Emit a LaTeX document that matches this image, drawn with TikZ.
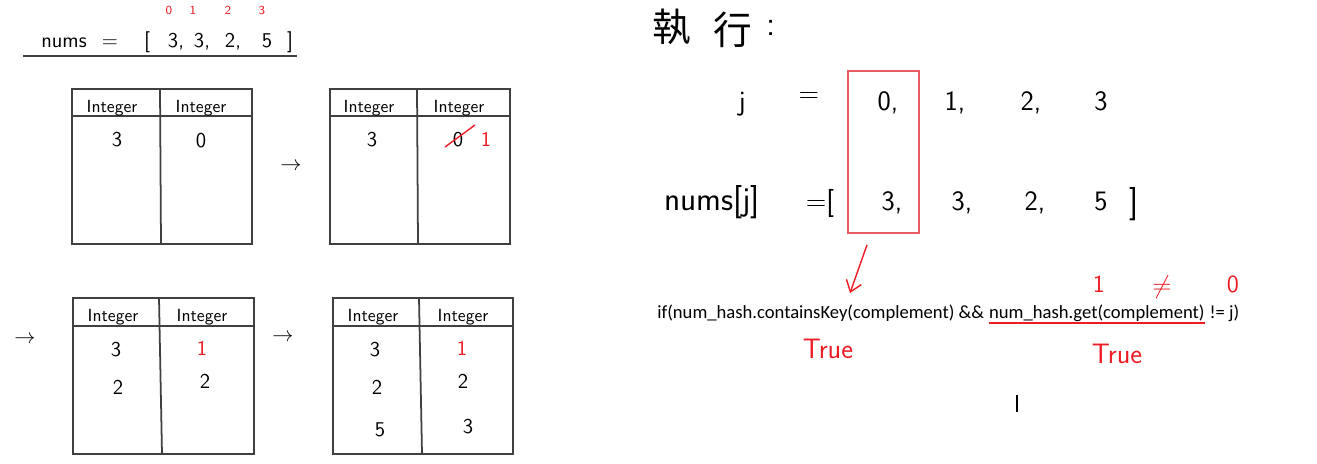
\documentclass[tikz,border=0pt]{standalone}
\usepackage{fontspec}
\usetikzlibrary{arrows.meta}
\newfontfamily\cjkfont{Noto Sans CJK TC}
\newfontfamily\codefont{Carlito}
\definecolor{inkred}{RGB}{237,28,36}
\definecolor{boxred}{RGB}{232,90,100}
\begin{document}
\begin{tikzpicture}[x=0.02cm, y=-0.02cm,
		hand/.style={font=\sffamily\fontsize{12}{14}\selectfont, inner sep=0pt},
		head/.style={font=\sffamily\fontsize{10}{12}\selectfont, inner sep=0pt, anchor=base},
		big/.style={font=\sffamily\fontsize{16}{19}\selectfont, inner sep=0pt, anchor=base},
		redhand/.style={hand, text=inkred},
		tbl/.style={draw=black!75, line width=1pt},
		code/.style={font=\codefont\fontsize{10.6}{13}\selectfont, inner sep=0pt, anchor=base west}]
	\useasboundingbox (0,0) rectangle (1317,463);
	% the array
	\node[hand, anchor=base] (nums) at (64,47) {nums};
	\node[hand, anchor=base] (eqA) at (110,47) {=};
	\node[hand, anchor=base] (lbA) at (147,47) {[};
	\node[hand, anchor=base] (vA) at (176,47) {3,};
	\node[hand, anchor=base] (vB) at (202,47) {3,};
	\node[hand, anchor=base] (vC) at (233,47) {2,};
	\node[hand, anchor=base] (vD) at (267,47) {5};
	\node[hand, anchor=base] (rbA) at (290,47) {]};
	\foreach \i/\x in {0/169,1/193,2/228,3/262}
		\node[text=inkred, font=\sffamily\fontsize{7}{8}\selectfont, inner sep=0pt] (idx\i) at (\x,10) {\i};
	\draw[draw=black!75, line width=1pt] (23,56) -- (297,56);

	% table 1
	\draw[tbl] (72,89) rectangle (252,244);
	\draw[tbl] (72,116) -- (252,116);
	\draw[tbl] (160,89) -- (161,244);
	\node[head] (ta1) at (112,112) {Integer};
	\node[head] (ta2) at (201,112) {Integer};
	\node[hand] (ta3) at (117,140) {3};
	\node[hand] (ta4) at (201,141) {0};
	\node[hand] (arrA) at (291,167) {$\rightarrow$};

	% table 2
	\draw[tbl] (330,89) rectangle (510,244);
	\draw[tbl] (330,116) -- (510,116);
	\draw[tbl] (417,89) -- (418,244);
	\node[head] (tb1) at (369,112) {Integer};
	\node[head] (tb2) at (459,112) {Integer};
	\node[hand] (tb3) at (372,140) {3};
	\node[hand] (tb4) at (458,140) {0};
	\draw[inkred, line width=0.8pt] ([xshift=-0.26cm,yshift=-0.14cm]tb4.center) -- ([xshift=0.34cm,yshift=0.3cm]tb4.center);
	\node[redhand] (tb5) at (486,139) {1};

	% table 3
	\node[hand] (arrB) at (25,340) {$\rightarrow$};
	\draw[tbl] (73,298) rectangle (254,454);
	\draw[tbl] (73,326) -- (254,326);
	\draw[tbl] (159,298) -- (162,454);
	\node[head] (tc1) at (113,321) {Integer};
	\node[head] (tc2) at (202,321) {Integer};
	\node[hand] (tc3) at (116,350) {3};
	\node[redhand] (tc4) at (202,348) {1};
	\node[hand] (tc5) at (118,387) {2};
	\node[hand] (tc6) at (205,381) {2};

	% table 4
	\node[hand] (arrC) at (283,338) {$\rightarrow$};
	\draw[tbl] (333,298) rectangle (513,454);
	\draw[tbl] (333,326) -- (513,326);
	\draw[tbl] (419,298) -- (422,454);
	\node[head] (td1) at (373,321) {Integer};
	\node[head] (td2) at (463,321) {Integer};
	\node[hand] (td3) at (375,350) {3};
	\node[redhand] (td4) at (462,348) {1};
	\node[hand] (td5) at (377,387) {2};
	\node[hand] (td6) at (463,381) {2};
	\node[hand] (td7) at (380,430) {5};
	\node[hand] (td8) at (468,427) {3};

	% right side
	\node[font=\cjkfont\fontsize{22}{26}\selectfont, inner sep=0pt] (zhi) at (672,27) {執};
	\node[font=\cjkfont\fontsize{22}{26}\selectfont, inner sep=0pt] (xing) at (733,30) {行};
	\node[font=\sffamily\fontsize{20}{24}\selectfont, inner sep=0pt, anchor=base] (colon) at (771,35) {:};
	\node[big] (jj) at (742,110) {j};
	\node[big, anchor=center] (eqB) at (809,97) {=};
	\node[big] (ja) at (888,110) {0,};
	\node[big] (jb) at (955,110) {1,};
	\node[big] (jc) at (1031,110) {2,};
	\node[big] (jd) at (1101,110) {3};
	\node[big, font=\sffamily\fontsize{19}{22}\selectfont] (numsj) at (712,210) {nums[j]};
	\node[big] (eqC) at (820,210) {=[};
	\node[big] (na) at (892,210) {3,};
	\node[big] (nb) at (962,210) {3,};
	\node[big] (nc) at (1035,210) {2,};
	\node[big] (nd) at (1101,210) {5};
	\node[big, font=\sffamily\fontsize{19}{22}\selectfont] (rbB) at (1134,212) {]};
	\node[draw=boxred, line width=1pt, minimum width=1.42cm, minimum height=3.24cm] (jbox) at (883.5,152) {};
	\coordinate (tipA) at (850,293);
	\draw[inkred, line width=0.8pt, -{Straight Barb[length=6pt,width=9pt]}] ([xshift=-0.33cm,yshift=-0.22cm]jbox.south) -- (tipA);

	% the condition
	\node[code] (cond1) at (657,318) {if(num\_hash.containsKey(complement) \&\&};
	\node[code] (cond2) at ([xshift=0.085cm]cond1.base east) {num\_hash.get(complement)};
	\node[code] (cond3) at ([xshift=0.085cm]cond2.base east) {!= j)};
	\draw[draw=inkred, line width=1pt] ([yshift=-0.03cm]cond2.south west) -- ([yshift=-0.03cm]cond2.south east);
	\node[redhand, font=\sffamily\fontsize{14}{16}\selectfont] (valA) at (1099,284) {1};
	\node[redhand, font=\sffamily\fontsize{14}{16}\selectfont] (neq) at (1162,287) {$\neq$};
	\node[redhand, font=\sffamily\fontsize{14}{16}\selectfont] (valB) at (1233,284) {0};
	\node[redhand, font=\sffamily\fontsize{16}{19}\selectfont] (trueA) at (828,349) {True};
	\node[redhand, font=\sffamily\fontsize{16}{19}\selectfont] (trueB) at (1117,354) {True};
	\draw[line width=0.8pt] (1017,395) -- (1017,412);
\end{tikzpicture}
\end{document}
